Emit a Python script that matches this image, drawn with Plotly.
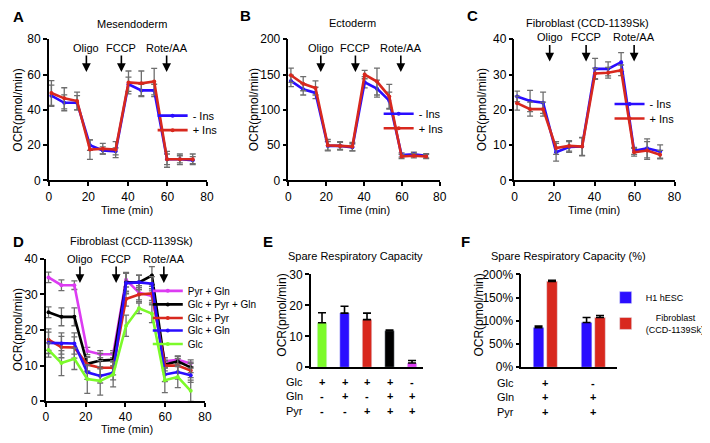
import plotly.graph_objects as go

# Page has an 8px body margin, so the figure is drawn from page pixel 8 onward.
OFF = 8
W, H = 710 - OFF, 443 - OFF
FONT = "Liberation Sans, Arial, sans-serif"

# ---------------- data ----------------
time = [1.3, 7.8, 14.3, 20.8, 27.3, 33.8, 40.3, 46.8, 53.3, 59.8, 66.3, 72.8]

a_minus = [48, 44, 44, 20, 17, 16.5, 54.5, 51, 51, 12, 12, 11.5]
a_minus_err = [6, 4.5, 4, 3, 2, 2, 4, 3.5, 3.5, 3, 2, 2]
a_plus = [49.5, 46.5, 45, 17.5, 18, 17.5, 55.5, 55, 56, 12, 12, 12]
a_plus_err = [7, 6, 5, 5.5, 3, 4.5, 6.5, 7, 7.5, 4.5, 3, 3]

b_minus = [141, 129, 124, 49, 49, 47, 139, 130, 113, 36, 37, 35]
b_minus_err = [8, 8, 8, 6, 5, 5, 8, 12, 12, 3, 3, 3]
b_plus = [149, 137, 131, 50, 49, 48, 150, 140, 119, 34, 35, 34]
b_plus_err = [10, 10, 10, 8, 6, 6, 6, 19, 17, 3, 3, 3]

c_minus = [23.8, 22.5, 22, 8, 9.5, 9.6, 31.6, 31.6, 33.5, 8.4, 9.1, 8.2]
c_minus_err = [1.5, 3, 3, 2.5, 1.5, 2.5, 3, 2, 2.7, 1, 2.7, 1.9]
c_plus = [21.9, 20.2, 20.2, 9.2, 9.8, 9.6, 30.3, 30.5, 31.2, 8, 8.5, 7.3]
c_plus_err = [2, 2, 2, 1.8, 1.5, 2.6, 1.5, 1.5, 1.5, 1.1, 2.5, 1.2]

ins_labels = ["- Ins", "+ Ins"]

d_names = ["Pyr + Gln", "Glc + Pyr + Gln", "Glc + Pyr", "Glc + Gln", "Glc"]
d_values = {
    "Pyr + Gln": [34.8, 32.6, 32.6, 14.1, 13.2, 13.2, 34.1, 30.5, 29.6, 11.2, 11.6, 10.6],
    "Glc + Pyr + Gln": [25.0, 23.7, 23.7, 10.5, 11.4, 11.6, 33.4, 33.4, 35.3, 10.3, 11.2, 9.5],
    "Glc + Pyr": [17.3, 15.2, 15.1, 10.3, 9.4, 9.4, 28.7, 30.0, 30.3, 10.0, 10.0, 8.6],
    "Glc + Gln": [16.4, 16.2, 16.2, 8.1, 7.1, 8.0, 33.2, 33.4, 33.0, 7.5, 8.2, 7.3],
    "Glc": [14.4, 10.7, 11.9, 6.2, 5.7, 7.5, 21.2, 26.1, 24.6, 5.9, 6.8, 2.9],
}
d_errors = {
    "Pyr + Gln": [1.5, 1.5, 1.2, 1, 1, 1, 2, 2, 2, 1, 1, 1],
    "Glc + Pyr + Gln": [1.5, 2.5, 2.5, 2, 2, 2, 2.5, 2, 2.5, 1, 1.5, 1.5],
    "Glc + Pyr": [3, 3, 3, 2, 2, 2, 2, 2, 2, 1.5, 2, 2],
    "Glc + Gln": [3, 3, 3, 2, 2, 2, 3, 2, 2, 2, 2, 2],
    "Glc": [2, 3.5, 3, 4, 4, 3.5, 3, 1.5, 2.5, 3.5, 3, 3],
}

injections = ["Oligo", "FCCP", "Rote/AA"]
inj_time = {"A": [19, 36.7, 59.6], "B": [17.1, 35.4, 59.4], "C": [17.6, 35.8, 59.8], "D": [17.1, 35.3, 59.3]}

e_values = [14.4, 17.5, 15.4, 11.8, 1.4]
e_errors = [3.2, 2.2, 2.1, 0.2, 0.8]
e_glc = ["+", "+", "+", "+", "-"]
e_gln = ["-", "+", "-", "+", "+"]
e_pyr = ["-", "-", "+", "+", "+"]

f_h1 = [0.854, 0.965]
f_h1_err = [0.035, 0.105]
f_fib = [1.85, 1.07]
f_fib_err = [0.02, 0.045]
f_glc = ["+", "-"]
f_gln = ["+", "+"]
f_pyr = ["+", "+"]
f_names = ["H1 hESC", "&nbsp;&nbsp;&nbsp;&nbsp;Fibroblast<br>(CCD-1139Sk)"]

# ---------------- styles ----------------
BLUE = "#2a0dff"
RED = "#d8281e"
BLACK = "#000000"
GREEN = "#7cfa2a"
MAGENTA = "#dc3cf2"
ERRC = "#6e6e6e"
d_colors = {"Pyr + Gln": MAGENTA, "Glc + Pyr + Gln": BLACK, "Glc + Pyr": RED, "Glc + Gln": BLUE, "Glc": GREEN}
e_colors = [GREEN, BLUE, RED, BLACK, MAGENTA]


def px_x(p):
    return (p - OFF) / W


def px_y(p):
    return 1 - (p - OFF) / H


fig = go.Figure()

panels = {
    # name: (axis id, x0, x1, ytop, ybottom) in page pixels
    "A": ("", 47, 210, 33, 179),
    "B": ("2", 294, 450, 33, 179),
    "C": ("3", 527, 692, 33, 179),
    "D": ("4", 44, 208, 260, 407),
    "E": ("5", 317, 433, 276, 372),
    "F": ("6", 534, 633, 276, 372),
}

legends = {}


def new_legend(x_text, y_row, size, shift=41):
    n = len(legends) + 1
    name = "legend" if n == 1 else "legend%d" % n
    legends[name] = dict(
        x=px_x(x_text - shift), y=px_y(y_row), xanchor="left", yanchor="middle",
        bgcolor="rgba(0,0,0,0)", font=dict(family=FONT, size=size, color="black"),
        itemwidth=30,
    )
    return name


def line_trace(x, y, err, color, name, axid, legend):
    return go.Scatter(
        x=x, y=y, name=name, mode="lines+markers",
        line=dict(color=color, width=2.6),
        marker=dict(color=color, size=4, symbol="circle"),
        error_y=dict(type="data", array=err, color=ERRC, thickness=1.3, width=3),
        xaxis="x" + axid, yaxis="y" + axid, legend=legend, showlegend=True,
    )


leg_pos = {"A": (195, [112, 127]), "B": (428, [110, 125]), "C": (666, [100, 115])}
for (pid, ax, vals) in [("A", "", [(a_minus, a_minus_err), (a_plus, a_plus_err)]),
                         ("B", "2", [(b_minus, b_minus_err), (b_plus, b_plus_err)]),
                         ("C", "3", [(c_minus, c_minus_err), (c_plus, c_plus_err)])]:
    xt, rows_y = leg_pos[pid]
    for (y, e), col, nm, ry in zip(vals, [BLUE, RED], ins_labels, rows_y):
        fig.add_trace(line_trace(time, y, e, col, nm, ax, new_legend(xt, ry, 11)))

d_rows = [293, 307, 321, 334, 348]
for nm, ry in zip(d_names, d_rows):
    fig.add_trace(line_trace(time, d_values[nm], d_errors[nm], d_colors[nm], nm, "4", new_legend(190, ry, 10)))

# E bars
fig.add_trace(go.Bar(
    x=list(range(len(e_values))), y=e_values, width=0.42,
    marker=dict(color=e_colors),
    error_y=dict(type="data", array=e_errors, arrayminus=[0] * len(e_errors), symmetric=False,
                 color=BLACK, thickness=1.6, width=4),
    xaxis="x5", yaxis="y5", showlegend=False,
))

# F bars
for vals, errs, col, nm, ry in [(f_h1, f_h1_err, BLUE, f_names[0], 300), (f_fib, f_fib_err, RED, f_names[1], 327)]:
    fig.add_trace(go.Bar(
        x=[0, 1], y=vals, name=nm, marker=dict(color=col),
        error_y=dict(type="data", array=errs, arrayminus=[0, 0], symmetric=False, color=BLACK,
                     thickness=1.6, width=4),
        xaxis="x6", yaxis="y6", legend=new_legend(653, ry, 9, shift=32),
    ))

# ---------------- axes ----------------
axis_common = dict(showline=True, linecolor="black", linewidth=1.5, ticks="outside", ticklen=4,
                   tickwidth=1.5, tickcolor="black", showgrid=False, zeroline=False,
                   tickfont=dict(family=FONT, size=12, color="black"))
yranges = {"A": (0, 80, 20), "B": (0, 200, 50), "C": (0, 40, 10), "D": (0, 40, 10), "E": (0, 30, 10), "F": (0, 2, 0.5)}
layout = {}
for pid, (ax, x0, x1, yt, yb) in panels.items():
    xa = dict(axis_common, domain=[px_x(x0), px_x(x1)], anchor="y" + ax)
    ya = dict(axis_common, domain=[px_y(yb), px_y(yt)], anchor="x" + ax)
    r0, r1, dt = yranges[pid]
    ya.update(range=[r0, r1], dtick=dt, tick0=0)
    if pid in "ABCD":
        xa.update(range=[0, 80], dtick=20, tick0=0)
    else:
        xa.update(showticklabels=False, ticks="")
        if pid == "E":
            xa.update(range=[-0.5, 4.5])
        else:
            xa.update(range=[-0.5, 1.5])
            ya.update(tickformat=".0%")
    layout["xaxis" + ax] = xa
    layout["yaxis" + ax] = ya

fig.update_layout(**layout)

annotations = []


def text(x, y, s, size=11, bold=False, xanchor="center", angle=0, xref="paper", yref="paper"):
    if bold:
        s = "<b>" + s + "</b>"
    annotations.append(dict(x=x, y=y, xref=xref, yref=yref, text=s, showarrow=False,
                            font=dict(family=FONT, size=size, color="black"),
                            xanchor=xanchor, yanchor="middle", textangle=angle))


# panel letters (left edges)
for L, (x, y) in {"A": (8, 10), "B": (242, 9), "C": (476, 9), "D": (8, 242), "E": (266, 242), "F": (470, 242)}.items():
    text(px_x(x), px_y(y), L, size=15, bold=True, xanchor="left")

# titles
for t, (x, y) in [("Mesendoderm", (133, 17)), ("Ectoderm", (360, 16)), ("Fibroblast (CCD-1139Sk)", (602, 16)),
                  ("Fibroblast (CCD-1139Sk)", (132, 241)), ("Spare Respiratory Capacity", (363, 257)),
                  ("Spare Respiratory Capacity (%)", (583, 257))]:
    text(px_x(x), px_y(y), t, size=11)

# axis titles
for x, y in [(128, 209), (372, 209), (609, 209), (128, 436)]:
    text(px_x(x), px_y(y), "Time (min)", size=11)
for x, y in [(15, 106), (258, 106), (493, 106), (15, 333), (287, 318), (490, 318)]:
    text(px_x(x), px_y(y), "OCR(pmol/min)", size=12, angle=-90)

# injection arrows
for pid, ax in [("A", ""), ("B", "2"), ("C", "3"), ("D", "4")]:
    ytop = panels[pid][3]
    tip = {"A": 34, "B": 34, "C": 23, "D": 25}[pid]
    for name, t in zip(injections, inj_time[pid]):
        annotations.append(dict(
            x=t, xref="x" + ax, y=px_y(ytop + tip), yref="paper", text=name,
            showarrow=True, arrowhead=2, arrowsize=1.1, arrowwidth=1.6, arrowcolor="black",
            ax=0, ay=-24, font=dict(family=FONT, size=11, color="black"), standoff=0,
        ))

# +/- tables
rows = [("Glc", 387), ("Gln", 402), ("Pyr", 417)]
for (lab, yp), signs in zip(rows, [e_glc, e_gln, e_pyr]):
    text(px_x(311), px_y(yp), lab, size=11, xanchor="right")
    for i, s in enumerate(signs):
        text(i, px_y(yp), s, size=11, bold=True, xref="x5")
for (lab, yp), signs in zip(rows, [f_glc, f_gln, f_pyr]):
    text(px_x(529), px_y(yp + 1), lab, size=11, xanchor="right")
    for i, s in enumerate(signs):
        text(i, px_y(yp + 1), s, size=11, bold=True, xref="x6")

fig.update_layout(
    width=W, height=H, margin=dict(l=0, r=0, t=0, b=0),
    paper_bgcolor="white", plot_bgcolor="white",
    showlegend=True, barmode="group", bargap=0.44, bargroupgap=0.21,
    annotations=annotations,
    **legends,
)

fig.write_html("out.html")
